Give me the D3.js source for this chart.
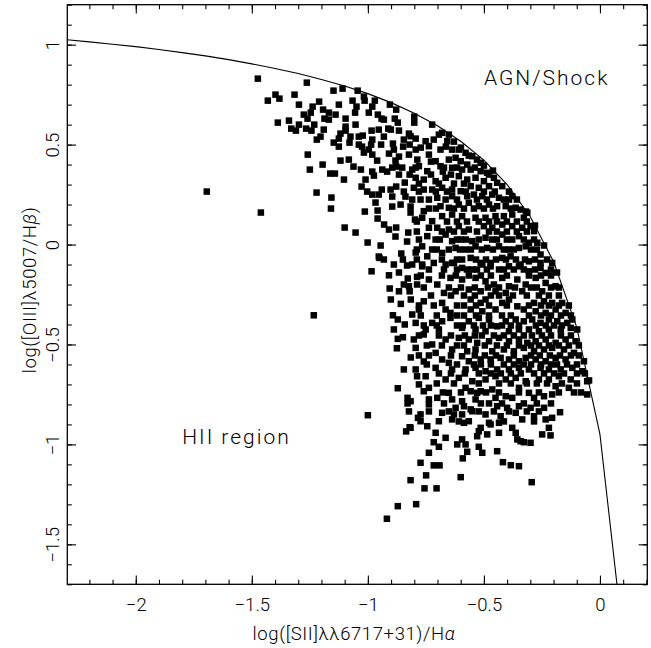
<!DOCTYPE html>
<html>
<head>
<meta charset="utf-8">
<script src="https://cdn.jsdelivr.net/npm/d3@7"></script>
<style>
  body { margin: 0; background: #fff; }
  svg text { font-family: Roboto, "Open Sans", "DejaVu Sans", sans-serif; font-weight: 300; fill: #000; }
</style>
</head>
<body>
<svg id="chart" width="651" height="648"></svg>
<script>
// log([SII]/Ha), log([OIII]/Hb) for each galaxy
var galaxies = [
  // upper arm
  [-1.474,0.83],[-1.263,0.81],[-1.398,0.75],[-1.381,0.73],[-1.431,0.72],[-1.316,0.75],[-1.297,0.70],[-1.148,0.77],
  [-1.109,0.78],[-1.044,0.77],[-1.066,0.72],[-1.014,0.72],[-0.970,0.72],[-1.21,0.715],[-1.238,0.69],[-1.193,0.675],
  [-1.246,0.66],[-1.168,0.66],[-1.139,0.65],[-1.187,0.63],[-1.26,0.63],[-1.049,0.69],[-1.055,0.66],[-1.096,0.63],
  [-0.996,0.66],[-0.981,0.69],[-0.957,0.65],[-0.941,0.63],[-0.905,0.70],[-0.878,0.675],[-0.884,0.63],[-0.871,0.61],
  [-0.80,0.64],[-0.80,0.61],[-1.388,0.61],[-1.34,0.62],[-1.33,0.58],[-1.31,0.57],[-1.266,0.58],[-1.243,0.57],
  [-1.231,0.60],[-1.096,0.59],[-1.053,0.60],[-1.096,0.57],[-1.118,0.555],[-1.125,0.53],[-1.075,0.54],[-1.039,0.54],
  [-1.022,0.545],[-0.984,0.57],[-0.953,0.575],[-0.912,0.58],[-0.866,0.57],[-0.823,0.555],[-0.794,0.53],[-1.204,0.54],
  [-1.147,0.51],[-1.125,0.49],[-1.079,0.51],[-1.025,0.49],[-0.981,0.525],[-0.986,0.50],[-0.943,0.50],[-0.931,0.54],
  [-0.892,0.505],[-0.848,0.49],[-0.82,0.50],[-1.017,0.46],[-0.981,0.45],[-0.96,0.42],[-0.909,0.455],[-0.866,0.44],
  [-0.881,0.42],[-0.823,0.45],[-0.794,0.475],[-0.787,0.425],[-1.259,0.45],[-1.195,0.40],[-1.118,0.42],[-1.062,0.39],
  [-1.25,0.375],[-1.162,0.355],[-1.142,0.355],[-0.981,0.365],[-0.974,0.345],[-0.938,0.375],[-0.917,0.365],[-0.895,0.385],
  [-0.878,0.39],[-0.852,0.385],[-0.82,0.35],[-0.794,0.385],[-1.01,0.325],[-1.027,0.29],[-1.003,0.265],[-0.981,0.25],
  [-0.953,0.25],[-0.967,0.21],[-0.902,0.275],[-0.878,0.29],[-0.841,0.31],[-0.895,0.24],[-0.845,0.265],[-0.838,0.24],
  [-0.895,0.19],[-0.859,0.20],[-0.809,0.225],[-0.816,0.19],[-1.694,0.265],[-1.461,0.16],[-1.221,0.26],[-1.157,0.235],
  [-1.159,0.18],[-1.013,0.165],[-0.958,0.17],[-0.958,0.13],[-0.93,0.10],[-0.909,0.075],[-0.878,0.085],[-0.881,0.04],
  [-0.826,0.06],[-0.831,0.015],[-0.816,0.16],[-0.797,0.125],[-1.10,0.085],[-1.053,0.06],[-1.001,0.01],[-0.945,-0.005],
  [-0.953,-0.06],[-0.856,-0.045],[-0.794,-0.04],
  [-1.276,0.65],[-1.168,0.625],[-1.125,0.70],[-1.017,0.74],[-0.931,0.625],[-0.901,0.575],[-0.845,0.525],[-1.039,0.50],
  [-1.082,0.425],[-0.996,0.475],[-0.888,0.475],[-0.866,0.35],[-0.940,0.275],[-1.030,0.375],[-1.103,0.325],[-1.190,0.575],
  [-1.220,0.525],[-1.297,0.60],
  // upper dense part near the line
  [-0.723,0.60],[-0.680,0.559],[-0.651,0.55],[-0.658,0.517],[-0.816,0.542],[-0.751,0.517],[-0.737,0.492],[-0.687,0.475],
  [-0.637,0.475],[-0.608,0.475],[-0.579,0.459],[-0.550,0.442],[-0.737,0.45],[-0.780,0.392],[-0.708,0.417],[-0.687,0.392],
  [-0.622,0.434],[-0.600,0.417],[-0.572,0.40],[-0.514,0.409],[-0.637,0.384],[-0.594,0.375],[-0.557,0.375],[-0.514,0.367],
  [-0.486,0.359],[-0.744,0.367],[-0.809,0.375],[-0.794,0.334],[-0.759,0.325],[-0.708,0.317],[-0.665,0.334],[-0.608,0.342],
  [-0.572,0.325],[-0.536,0.334],[-0.5,0.317],[-0.457,0.334],[-0.443,0.309],[-0.557,0.292],[-0.522,0.284],[-0.478,0.292],
  [-0.421,0.292],[-0.759,0.275],[-0.723,0.275],[-0.680,0.284],[-0.637,0.275],[-0.600,0.267],[-0.802,0.284],[-0.773,0.225],
  [-0.701,0.234],[-0.665,0.225],[-0.637,0.242],[-0.572,0.242],[-0.543,0.25],[-0.507,0.242],[-0.464,0.25],[-0.435,0.234],
  [-0.392,0.225],[-0.378,0.242],[-0.687,0.192],[-0.651,0.184],[-0.608,0.20],[-0.565,0.209],[-0.522,0.192],[-0.478,0.20],
  [-0.443,0.192],[-0.406,0.192],[-0.363,0.184],[-0.342,0.175],[-0.759,0.167],[-0.766,0.134],[-0.723,0.117],[-0.680,0.142],
  [-0.637,0.15],[-0.594,0.142],[-0.536,0.134],[-0.493,0.134],[-0.450,0.142],[-0.414,0.142],[-0.378,0.15],[-0.328,0.134],
  [-0.313,0.159],[-0.737,0.084],[-0.701,0.084],[-0.651,0.075],[-0.608,0.092],[-0.565,0.075],[-0.5,0.092],[-0.464,0.084],
  [-0.421,0.10],[-0.378,0.092],[-0.335,0.084],[-0.299,0.092],[-0.284,0.067],[-0.744,0.042],[-0.708,0.025],[-0.665,0.05],
  [-0.637,0.017],[-0.600,0.025],[-0.550,0.017],[-0.493,0.034],[-0.464,0.025],[-0.421,0.05],[-0.378,0.025],[-0.349,0.042],
  [-0.306,0.009],[-0.270,0.009],[-0.766,-0.009],[-0.723,-0.025],[-0.680,-0.042],[-0.622,-0.017],[-0.579,-0.025],[-0.536,-0.009],
  [-0.486,-0.017],[-0.435,-0.009],[-0.392,-0.025],[-0.349,-0.017],[-0.320,-0.009],[-0.256,-0.05],[-0.744,-0.059],[-0.716,-0.092],
  [-0.637,-0.092],[-0.594,-0.075],[-0.557,-0.067],[-0.514,-0.092],[-0.471,-0.092],[-0.421,-0.067],[-0.385,-0.059],[-0.342,-0.10],
  [-0.306,-0.084],[-0.256,-0.092],[-0.206,-0.092],[-0.766,-0.10],[-0.665,-0.10],
  [-0.694,0.55],[-0.664,0.49],[-0.629,0.515],[-0.599,0.485],[-0.565,0.445],[-0.530,0.425],[-0.5,0.395],[-0.716,0.525],
  [-0.772,0.485],[-0.728,0.415],[-0.651,0.425],[-0.677,0.365],[-0.672,0.385],[-0.616,0.385],[-0.539,0.385],[-0.461,0.37],
  [-0.728,0.35],[-0.642,0.35],[-0.478,0.35],[-0.780,0.305],[-0.694,0.305],[-0.629,0.305],[-0.586,0.305],
  [-0.780,0.265],[-0.707,0.265],[-0.659,0.265],[-0.578,0.265],[-0.5,0.265],[-0.453,0.265],[-0.392,0.265],
  [-0.737,0.225],[-0.616,0.225],[-0.530,0.225],[-0.487,0.225],[-0.414,0.225],[-0.358,0.225],
  [-0.737,0.18],[-0.707,0.18],[-0.629,0.18],[-0.586,0.18],[-0.543,0.18],[-0.5,0.18],[-0.461,0.18],[-0.384,0.18],[-0.319,0.165],
  [-0.789,0.115],[-0.659,0.115],[-0.616,0.115],[-0.573,0.115],[-0.522,0.115],[-0.478,0.115],[-0.444,0.115],[-0.401,0.115],
  [-0.358,0.115],[-0.315,0.115],[-0.280,0.095],
  [-0.789,0.065],[-0.681,0.065],[-0.629,0.065],[-0.586,0.065],[-0.530,0.065],[-0.478,0.065],[-0.444,0.065],[-0.401,0.065],
  [-0.358,0.065],[-0.315,0.065],
  [-0.780,0.025],[-0.690,0.025],[-0.616,0.025],[-0.578,0.025],[-0.522,0.025],[-0.444,0.025],[-0.401,0.025],[-0.328,0.025],
  [-0.284,0.025],[-0.241,-0.005],
  [-0.789,-0.025],[-0.703,-0.025],[-0.651,-0.025],[-0.603,-0.025],[-0.556,-0.025],[-0.509,-0.025],[-0.461,-0.025],[-0.414,-0.025],
  [-0.371,-0.025],[-0.297,-0.025],[-0.272,-0.025],
  [-0.789,-0.075],[-0.681,-0.075],[-0.616,-0.075],[-0.534,-0.075],[-0.491,-0.075],[-0.448,-0.075],[-0.405,-0.075],[-0.362,-0.075],
  [-0.323,-0.075],[-0.280,-0.075],[-0.228,-0.075],
  // middle dense part
  [-0.809,-0.10],[-0.766,-0.109],[-0.629,-0.092],[-0.594,-0.117],[-0.550,-0.125],[-0.507,-0.10],[-0.471,-0.109],[-0.435,-0.125],
  [-0.392,-0.109],[-0.349,-0.109],[-0.306,-0.134],[-0.256,-0.117],[-0.234,-0.142],[-0.823,-0.209],[-0.788,-0.20],[-0.737,-0.175],
  [-0.701,-0.20],[-0.644,-0.167],[-0.594,-0.175],[-0.536,-0.167],[-0.493,-0.184],[-0.457,-0.20],[-0.421,-0.167],[-0.392,-0.209],
  [-0.356,-0.175],[-0.320,-0.20],[-0.277,-0.167],[-0.234,-0.192],[-0.191,-0.209],[-0.672,-0.242],[-0.622,-0.234],[-0.565,-0.225],
  [-0.514,-0.234],[-0.450,-0.234],[-0.406,-0.242],[-0.335,-0.234],[-0.249,-0.234],[-0.759,-0.284],[-0.680,-0.292],[-0.665,-0.325],
  [-0.557,-0.275],[-0.514,-0.292],[-0.493,-0.275],[-0.450,-0.325],[-0.421,-0.292],[-0.392,-0.275],[-0.356,-0.309],[-0.328,-0.325],
  [-0.284,-0.292],[-0.241,-0.284],[-0.206,-0.292],[-0.163,-0.292],[-0.557,-0.325],[-0.507,-0.334],[-0.277,-0.334],[-0.234,-0.342],
  [-0.191,-0.325],[-0.148,-0.342],[-0.809,-0.35],[-0.644,-0.342],[-0.794,-0.392],[-0.723,-0.392],[-0.680,-0.384],[-0.644,-0.367],
  [-0.565,-0.384],[-0.522,-0.367],[-0.478,-0.375],[-0.443,-0.409],[-0.406,-0.384],[-0.363,-0.375],[-0.328,-0.384],[-0.292,-0.375],
  [-0.256,-0.392],[-0.220,-0.375],[-0.184,-0.384],[-0.141,-0.392],[-0.119,-0.375],[-0.751,-0.425],[-0.694,-0.425],[-0.594,-0.417],
  [-0.536,-0.425],[-0.493,-0.434],[-0.392,-0.434],[-0.349,-0.425],[-0.306,-0.425],[-0.263,-0.434],[-0.220,-0.425],[-0.169,-0.425],
  [-0.126,-0.417],[-0.098,-0.425],[-0.802,-0.475],[-0.723,-0.50],[-0.665,-0.475],[-0.608,-0.467],[-0.565,-0.475],[-0.529,-0.492],
  [-0.478,-0.484],[-0.435,-0.467],[-0.392,-0.484],[-0.349,-0.475],[-0.313,-0.492],[-0.277,-0.484],[-0.234,-0.475],[-0.191,-0.492],
  [-0.148,-0.475],[-0.105,-0.484],[-0.794,-0.517],[-0.708,-0.542],[-0.637,-0.525],[-0.572,-0.534],[-0.536,-0.525],[-0.464,-0.534],
  [-0.414,-0.525],[-0.371,-0.534],[-0.328,-0.517],[-0.284,-0.534],[-0.241,-0.525],[-0.206,-0.517],[-0.155,-0.525],[-0.112,-0.542],
  [-0.680,-0.575],[-0.651,-0.592],[-0.594,-0.559],[-0.565,-0.584],[-0.514,-0.575],[-0.471,-0.575],[-0.428,-0.567],[-0.392,-0.575],
  [-0.349,-0.584],[-0.320,-0.567],[-0.277,-0.575],[-0.234,-0.584],[-0.191,-0.567],[-0.148,-0.575],[-0.069,-0.584],[-0.794,-0.625],
  [-0.708,-0.617],[-0.637,-0.625],[-0.579,-0.625],[-0.536,-0.617],[-0.493,-0.634],[-0.443,-0.625],[-0.392,-0.625],[-0.349,-0.617],
  [-0.306,-0.625],[-0.256,-0.617],[-0.220,-0.625],[-0.169,-0.625],[-0.119,-0.617],[-0.076,-0.634],[-0.751,-0.659],[-0.665,-0.675],
  [-0.608,-0.667],[-0.550,-0.684],[-0.493,-0.675],[-0.450,-0.659],[-0.406,-0.675],[-0.363,-0.667],[-0.320,-0.684],[-0.263,-0.675],
  [-0.220,-0.675],[-0.177,-0.659],[-0.126,-0.675],[-0.055,-0.684],[-0.737,-0.717],[-0.579,-0.717],[-0.514,-0.734],[-0.464,-0.725],
  [-0.349,-0.717],[-0.191,-0.709],[-0.134,-0.717],
  [-0.737,-0.125],[-0.672,-0.125],[-0.616,-0.125],[-0.573,-0.125],[-0.530,-0.125],[-0.487,-0.125],[-0.414,-0.125],[-0.371,-0.125],
  [-0.328,-0.125],[-0.280,-0.125],[-0.211,-0.125],[-0.185,-0.14],
  [-0.772,-0.155],[-0.681,-0.155],[-0.621,-0.155],[-0.565,-0.155],[-0.513,-0.155],[-0.470,-0.155],[-0.401,-0.155],[-0.306,-0.155],
  [-0.254,-0.155],[-0.211,-0.155],
  [-0.759,-0.215],[-0.651,-0.215],[-0.599,-0.215],[-0.539,-0.215],[-0.483,-0.215],[-0.435,-0.215],[-0.366,-0.215],[-0.297,-0.215],
  [-0.272,-0.215],[-0.211,-0.215],[-0.177,-0.215],
  [-0.728,-0.255],[-0.642,-0.255],[-0.586,-0.255],[-0.539,-0.255],[-0.470,-0.255],[-0.435,-0.255],[-0.375,-0.255],[-0.315,-0.255],
  [-0.263,-0.255],[-0.220,-0.255],[-0.177,-0.255],
  [-0.780,-0.305],[-0.716,-0.305],[-0.616,-0.305],[-0.586,-0.305],[-0.534,-0.305],[-0.478,-0.305],[-0.401,-0.305],[-0.306,-0.305],
  [-0.254,-0.305],[-0.220,-0.305],[-0.177,-0.305],[-0.134,-0.305],
  [-0.772,-0.355],[-0.703,-0.355],[-0.616,-0.355],[-0.586,-0.355],[-0.534,-0.355],[-0.478,-0.355],[-0.422,-0.355],[-0.384,-0.355],
  [-0.306,-0.355],[-0.254,-0.355],[-0.211,-0.355],[-0.168,-0.355],[-0.125,-0.355],
  [-0.759,-0.405],[-0.703,-0.405],[-0.616,-0.405],[-0.591,-0.405],[-0.543,-0.405],[-0.504,-0.405],[-0.470,-0.405],[-0.422,-0.405],
  [-0.384,-0.405],[-0.349,-0.405],[-0.276,-0.405],[-0.233,-0.405],[-0.198,-0.405],[-0.164,-0.405],
  [-0.780,-0.455],[-0.694,-0.455],[-0.642,-0.455],[-0.582,-0.455],[-0.539,-0.455],[-0.509,-0.455],[-0.457,-0.455],[-0.414,-0.455],
  [-0.371,-0.455],[-0.328,-0.455],[-0.293,-0.455],[-0.250,-0.455],[-0.211,-0.455],[-0.168,-0.455],[-0.125,-0.455],
  [-0.746,-0.505],[-0.681,-0.505],[-0.616,-0.505],[-0.586,-0.505],[-0.496,-0.505],[-0.444,-0.505],[-0.401,-0.505],[-0.349,-0.505],
  [-0.297,-0.505],[-0.263,-0.505],[-0.220,-0.505],[-0.177,-0.505],[-0.134,-0.505],[-0.091,-0.505],
  [-0.780,-0.555],[-0.737,-0.555],[-0.642,-0.555],[-0.539,-0.555],[-0.496,-0.555],[-0.448,-0.555],[-0.371,-0.555],[-0.297,-0.555],
  [-0.259,-0.555],[-0.216,-0.555],[-0.172,-0.555],[-0.125,-0.555],[-0.091,-0.555],
  [-0.746,-0.60],[-0.616,-0.60],[-0.543,-0.60],[-0.513,-0.60],[-0.470,-0.60],[-0.414,-0.60],[-0.371,-0.60],[-0.328,-0.60],
  [-0.297,-0.60],[-0.254,-0.60],[-0.211,-0.60],[-0.185,-0.60],[-0.142,-0.60],[-0.099,-0.60],[-0.047,-0.68],
  [-0.694,-0.645],[-0.642,-0.645],[-0.582,-0.645],[-0.522,-0.645],[-0.470,-0.645],[-0.427,-0.645],[-0.384,-0.645],[-0.341,-0.645],
  [-0.284,-0.645],[-0.241,-0.645],[-0.198,-0.645],[-0.155,-0.645],[-0.099,-0.645],[-0.065,-0.645],
  [-0.703,-0.695],[-0.629,-0.695],[-0.522,-0.695],[-0.435,-0.695],[-0.384,-0.695],[-0.315,-0.695],[-0.272,-0.695],[-0.228,-0.695],
  [-0.164,-0.695],[-0.099,-0.695],
  // lower part
  [-0.759,-0.734],[-0.737,-0.775],[-0.701,-0.767],[-0.651,-0.742],[-0.637,-0.775],[-0.594,-0.784],[-0.557,-0.734],[-0.536,-0.775],
  [-0.529,-0.742],[-0.450,-0.767],[-0.406,-0.759],[-0.378,-0.767],[-0.349,-0.809],[-0.306,-0.742],[-0.284,-0.767],[-0.241,-0.759],
  [-0.206,-0.75],[-0.055,-0.75],[-0.816,-0.784],[-0.737,-0.80],[-0.622,-0.817],[-0.586,-0.809],[-0.557,-0.825],[-0.443,-0.809],
  [-0.400,-0.817],[-0.299,-0.817],[-0.241,-0.817],[-0.773,-0.85],[-0.680,-0.842],[-0.629,-0.85],[-0.594,-0.85],[-0.550,-0.834],
  [-0.493,-0.85],[-0.428,-0.859],[-0.363,-0.842],[-0.335,-0.875],[-0.284,-0.859],[-0.234,-0.875],[-0.206,-0.867],[-0.172,-0.839],
  [-0.773,-0.884],[-0.694,-0.884],[-0.637,-0.875],[-0.586,-0.892],[-0.565,-0.884],[-0.478,-0.892],[-0.435,-0.892],[-0.816,-0.917],
  [-0.744,-0.909],[-0.514,-0.917],[-0.471,-0.90],[-0.378,-0.917],[-0.220,-0.917],[-0.708,-0.942],[-0.522,-0.934],[-0.486,-0.95],
  [-0.435,-0.942],[-0.363,-0.942],[-0.249,-0.95],[-0.213,-0.955],[-0.665,-0.967],[-0.594,-0.975],[-0.529,-0.959],[-0.356,-0.975],
  [-0.342,-0.984],[-0.716,-0.989],[-0.615,-1.0],[-0.579,-1.0],[-0.328,-0.989],[-0.299,-0.992],[-0.694,-1.012],[-0.522,-1.012],
  [-0.737,-1.042],[-0.572,-1.037],[-0.507,-1.042],[-0.443,-1.034],[-0.591,-1.07],[-0.773,-1.092],[-0.716,-1.105],[-0.691,-1.105],
  [-0.418,-1.089],[-0.384,-1.104],[-0.349,-1.109],[-0.749,-1.155],[-0.600,-1.164],[-0.816,-1.179],[-0.294,-1.189],[-0.756,-1.22],
  [-0.704,-1.22],[-0.792,-1.299],
  [-0.677,-0.74],[-0.599,-0.74],[-0.491,-0.74],[-0.435,-0.74],[-0.349,-0.74],[-0.263,-0.74],[-0.177,-0.74],[-0.112,-0.74],[-0.082,-0.74],
  [-0.672,-0.795],[-0.513,-0.795],[-0.478,-0.795],[-0.422,-0.795],[-0.328,-0.795],[-0.272,-0.795],[-0.211,-0.795],
  [-0.737,-0.835],[-0.651,-0.835],[-0.522,-0.835],[-0.457,-0.835],[-0.392,-0.835],[-0.315,-0.835],[-0.263,-0.835],
  [-0.608,-0.885],[-0.414,-0.885],[-0.284,-0.885],
  // left edge of the cloud
  [-0.950,-0.067],[-0.849,-0.075],[-0.831,-0.105],[-0.984,-0.134],[-0.909,-0.154],[-0.828,-0.17],[-0.788,-0.162],[-0.906,-0.22],
  [-0.866,-0.234],[-0.820,-0.234],[-0.858,-0.297],[-1.233,-0.354],[-0.892,-0.354],[-0.871,-0.375],[-0.871,-0.472],[-0.849,-0.464],
  [-0.875,-0.519],[-0.788,-0.659],[-0.871,-0.719],[-0.829,-0.767],[-0.829,-0.795],[-1.0,-0.854],[-0.784,-0.867],[-0.820,-0.914],
  [-0.835,-0.935],[-0.871,-1.309],[-0.918,-1.372],
  [-0.845,-0.20],[-0.815,-0.275],[-0.780,-0.325],[-0.841,-0.40],[-0.759,-0.45],[-0.815,-0.565],[-0.759,-0.585],[-0.845,-0.625],
  [-0.780,-0.70],[-0.823,-0.835],[-0.888,-0.425],[-0.901,-0.275],[-0.866,-0.14],[-0.931,-0.075],[-0.888,-0.10]
];

// maximum starburst line as drawn (one value every 0.1 dex)
var kewleyX = [-2.3, -2.2, -2.1, -2.0, -1.9, -1.8, -1.7, -1.6, -1.5, -1.4, -1.3, -1.2, -1.1,
               -1.0, -0.9, -0.8, -0.7, -0.6, -0.5, -0.4, -0.3, -0.2, -0.1, 0.0, 0.1];
var kewleyY = [1.025, 1.014, 1.002, 0.990, 0.976, 0.960, 0.944, 0.925, 0.904, 0.881, 0.856, 0.826, 0.793,
               0.755, 0.710, 0.657, 0.594, 0.517, 0.422, 0.300, 0.139, -0.085, -0.414, -0.950, -1.973];

var xMajor = [-2, -1.5, -1, -0.5, 0];
var xTickLabels = ["\u22122", "\u22121.5", "\u22121", "\u22120.5", "0"];
var yMajor = [-1.5, -1, -0.5, 0, 0.5, 1];
var yTickLabels = ["\u22121.5", "\u22121", "\u22120.5", "0", "0.5", "1"];
var regionLabels = ["AGN/Shock", "HII region"];

var plotL = 67.3, plotR = 647.3, plotT = 4.7, plotB = 584.3;
var svg = d3.select("#chart");

var x = d3.scaleLinear().domain([-2.295, 0.204]).range([plotL, plotR]);
var y = d3.scaleLinear().domain([-1.7, 1.2]).range([plotB, plotT]);

svg.append("clipPath").attr("id", "plotclip")
  .append("rect")
  .attr("x", plotL).attr("y", plotT)
  .attr("width", plotR - plotL).attr("height", plotB - plotT);

// ticks on all four sides, pointing inward
function addAxis(axis, tx, ty) {
  var g = svg.append("g")
    .attr("transform", "translate(" + tx + "," + ty + ")")
    .call(axis)
    .attr("font-size", null)
    .attr("font-family", null);
  g.select(".domain").remove();
  g.selectAll(".tick line").attr("stroke", "#000").attr("stroke-width", 1.1);
  return g;
}

var xMinor = x.ticks(25), yMinor = y.ticks(29);

addAxis(d3.axisBottom(x).tickValues(xMinor).tickSizeInner(-4.5).tickSizeOuter(0).tickFormat(""), 0, plotB);
addAxis(d3.axisTop(x).tickValues(xMinor).tickSizeInner(-4.5).tickSizeOuter(0).tickFormat(""), 0, plotT);
addAxis(d3.axisLeft(y).tickValues(yMinor).tickSizeInner(-4.5).tickSizeOuter(0).tickFormat(""), plotL, 0);
addAxis(d3.axisRight(y).tickValues(yMinor).tickSizeInner(-4.5).tickSizeOuter(0).tickFormat(""), plotR, 0);

var bottomAxis = addAxis(d3.axisBottom(x).tickValues(xMajor).tickSizeInner(-8.7).tickSizeOuter(0)
  .tickFormat(function(d, i) { return xTickLabels[i]; }), 0, plotB);
bottomAxis.selectAll(".tick text")
  .attr("y", 27).attr("dy", 0)
  .style("font-size", "18.5px");

addAxis(d3.axisTop(x).tickValues(xMajor).tickSizeInner(-8.7).tickSizeOuter(0).tickFormat(""), 0, plotT);
addAxis(d3.axisRight(y).tickValues(yMajor).tickSizeInner(-8.7).tickSizeOuter(0).tickFormat(""), plotR, 0);

var leftAxis = addAxis(d3.axisLeft(y).tickValues(yMajor).tickSizeInner(-8.7).tickSizeOuter(0)
  .tickFormat(function(d, i) { return yTickLabels[i]; }), plotL, 0);
leftAxis.selectAll(".tick text")
  .attr("x", null).attr("dy", null)
  .attr("text-anchor", "middle")
  .attr("transform", "translate(-8.5,0) rotate(-90)")
  .style("font-size", "18.5px");

// data
svg.append("g")
  .attr("clip-path", "url(#plotclip)")
  .selectAll(".gal").data(galaxies)
  .enter().append("rect")
  .attr("class", "gal")
  .attr("x", function(d) { return x(d[0]) - 3.25; })
  .attr("y", function(d) { return y(d[1]) - 3.25; })
  .attr("width", 6.5)
  .attr("height", 6.5)
  .attr("fill", "#000");

var line = d3.line()
  .x(function(d, i) { return x(kewleyX[i]); })
  .y(function(d) { return y(d); });

svg.append("path")
  .datum(kewleyY)
  .attr("clip-path", "url(#plotclip)")
  .attr("d", line)
  .attr("fill", "none")
  .attr("stroke", "#000")
  .attr("stroke-width", 1.1);

// frame
svg.append("rect")
  .attr("x", plotL).attr("y", plotT)
  .attr("width", plotR - plotL).attr("height", plotB - plotT)
  .attr("fill", "none")
  .attr("stroke", "#000")
  .attr("stroke-width", 1.3);

// region labels
svg.append("text")
  .attr("x", x(-0.5)).attr("y", y(0.8))
  .style("font-size", "21px")
  .style("letter-spacing", "2px")
  .text(regionLabels[0]);
svg.append("text")
  .attr("x", x(-1.8)).attr("y", y(-1.0))
  .style("font-size", "21px")
  .style("letter-spacing", "2px")
  .text(regionLabels[1]);

// axis titles
var xt = svg.append("text")
  .attr("x", 354).attr("y", 640)
  .attr("text-anchor", "middle")
  .style("font-size", "18.5px")
  .style("letter-spacing", "0.6px");
xt.append("tspan").text("log([SII]\u03bb\u03bb6717+31)/H");
xt.append("tspan").style("font-style", "italic").text("\u03b1");

var yt = svg.append("text")
  .attr("transform", "translate(36,290) rotate(-90)")
  .attr("text-anchor", "middle")
  .style("font-size", "18.5px")
  .style("letter-spacing", "0.6px");
yt.append("tspan").text("log([OIII]\u03bb5007/H");
yt.append("tspan").style("font-style", "italic").text("\u03b2");
yt.append("tspan").text(")");
</script>
</body>
</html>
